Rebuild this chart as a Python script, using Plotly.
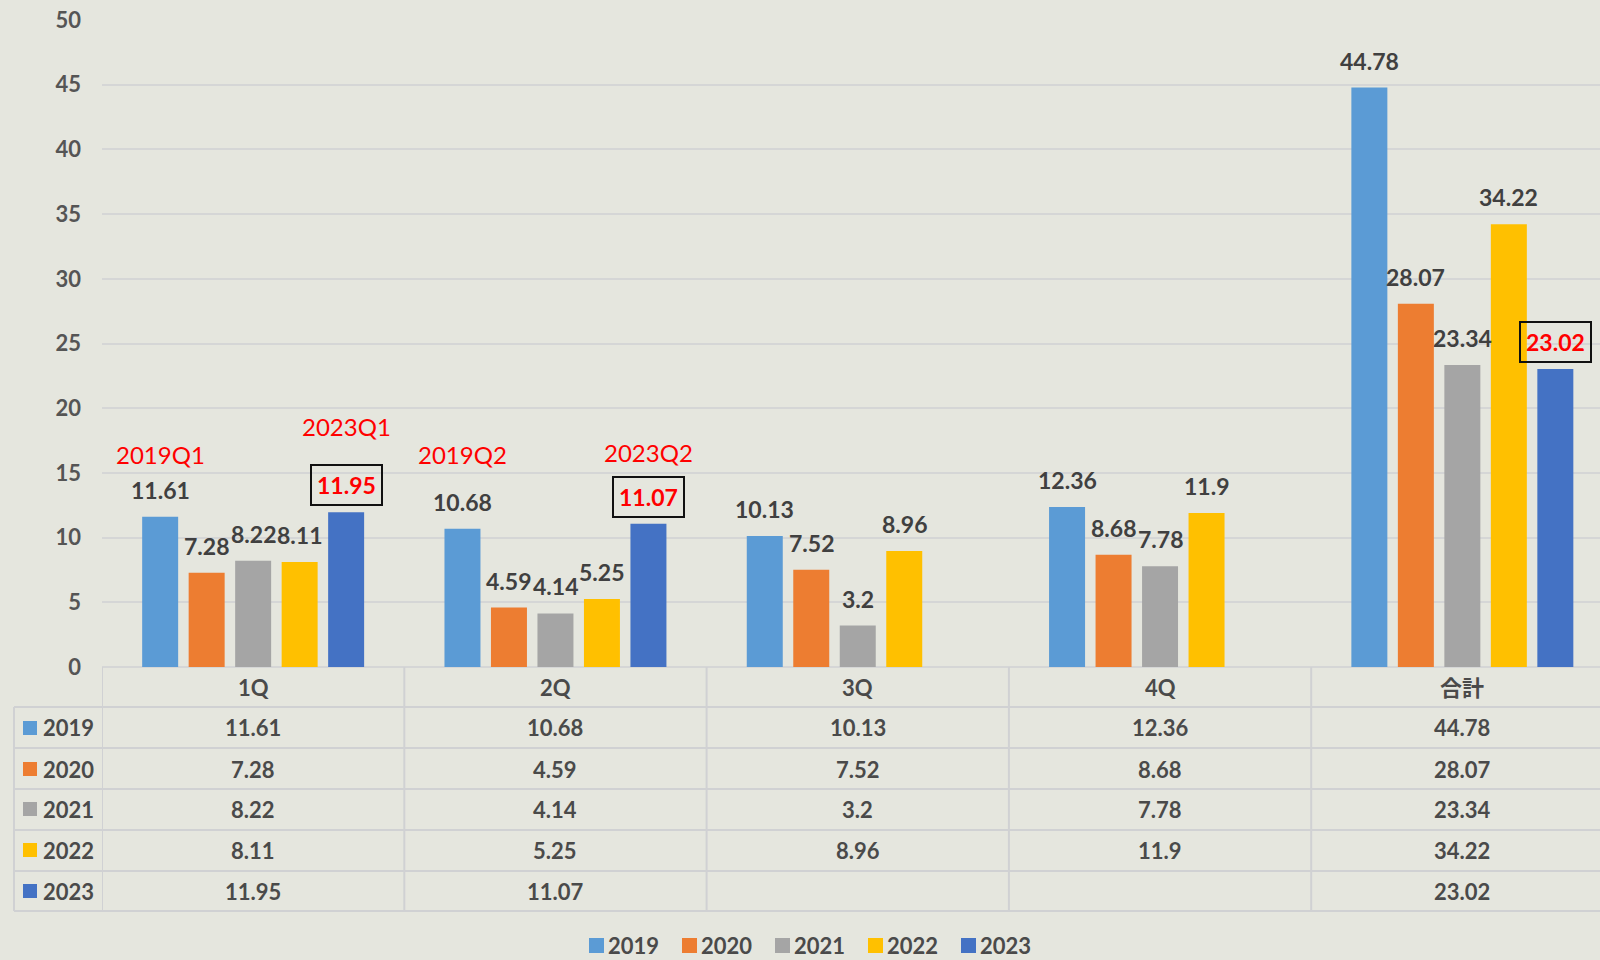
import plotly.graph_objects as go

# ---------------- data ----------------
categories = ["1Q", "2Q", "3Q", "4Q", "合計"]
years = ["2019", "2020", "2021", "2022", "2023"]
v2019 = [11.61, 10.68, 10.13, 12.36, 44.78]
v2020 = [7.28, 4.59, 7.52, 8.68, 28.07]
v2021 = [8.22, 4.14, 3.2, 7.78, 23.34]
v2022 = [8.11, 5.25, 8.96, 11.9, 34.22]
v2023 = [11.95, 11.07, None, None, 23.02]
series = [v2019, v2020, v2021, v2022, v2023]
colors = ["#5B9BD5", "#ED7D31", "#A5A5A5", "#FFC000", "#4472C4"]
y_ticks = [0, 5, 10, 15, 20, 25, 30, 35, 40, 45, 50]

# red callouts: (text, category index, series index, y in data units)
callouts = [("2019Q1", 0, 0, 16.4), ("2023Q1", 0, 4, 18.6),
            ("2019Q2", 1, 0, 16.4), ("2023Q2", 1, 4, 16.6)]
highlight_series = 4  # 2023 values boxed in red

# ---------------- layout geometry ----------------
W, H = 1600, 960
ML, MR, MT, MB = 102, 0, 20, 293
PW = W - ML - MR
PH = H - MT - MB
BARGAP = 0.231
BARGROUPGAP = 0.226
n = len(series)
slot = (1 - BARGAP) / n
XR = [-0.5, -0.5 + PW / 302.3]

FONT = "Lato, 'Noto Sans CJK JP', 'Noto Sans', sans-serif"
TXT = "#404040"
TBL = "#4A4A4A"
BG = "#E5E6DE"
LINE = "#D0D1D3"


def py2paper(py):
    return (H - MB - py) / PH


def px2paper(px):
    return (px - ML) / PW


fig = go.Figure()
xs = list(range(len(categories)))
for yr, vals, c in zip(years, series, colors):
    fig.add_trace(go.Bar(x=xs, y=vals, name=yr,
                         marker=dict(color=c, line=dict(width=0)), hoverinfo="skip"))

annotations = []
shapes = []
# data labels
for k, vals in enumerate(series):
    for i, v in enumerate(vals):
        if v is None:
            continue
        xpos = i + (k - (n - 1) / 2) * slot
        if k == highlight_series:
            annotations.append(dict(x=xpos, y=v, xref="x", yref="y", text=f"<b>{v}</b>",
                                    showarrow=False, yanchor="middle", yshift=27,
                                    font=dict(family=FONT, size=23, color="#FF0000"),
                                    bordercolor="#111111", borderwidth=2, borderpad=5))
        else:
            annotations.append(dict(x=xpos, y=v, xref="x", yref="y", text=f"<b>{v}</b>",
                                    showarrow=False, yanchor="middle", yshift=27,
                                    font=dict(family=FONT, size=23, color=TXT)))
# red callouts
for txt, i, k, yv in callouts:
    xpos = i + (k - (n - 1) / 2) * slot
    annotations.append(dict(x=xpos, y=yv, xref="x", yref="y", text=txt, showarrow=False,
                            yanchor="middle", font=dict(family=FONT, size=24, color="#FF0000")))

# ---------------- data table ----------------
header_py = 687
row_py = [728, 769, 809, 850, 891]
row_lines = [707, 748, 789, 830, 871, 911]
for i, cat in enumerate(categories):
    annotations.append(dict(x=i, y=py2paper(header_py), xref="x", yref="paper", text=f"<b>{cat}</b>",
                            showarrow=False, yanchor="middle",
                            font=dict(family=FONT, size=22, color=TBL)))
for k, (yr, vals, c) in enumerate(zip(years, series, colors)):
    yc = py2paper(row_py[k])
    annotations.append(dict(x=px2paper(41), y=yc, xref="paper", yref="paper", text=f"<b>{yr}</b>",
                            showarrow=False, xanchor="left", yanchor="middle",
                            font=dict(family=FONT, size=22, color=TBL)))
    shapes.append(dict(type="rect", xref="paper", yref="paper",
                       x0=px2paper(23), x1=px2paper(37),
                       y0=yc - 7 / PH, y1=yc + 7 / PH,
                       fillcolor=c, line=dict(width=0), layer="above"))
    for i, v in enumerate(vals):
        if v is None:
            continue
        annotations.append(dict(x=i, y=yc, xref="x", yref="paper", text=f"<b>{v}</b>",
                                showarrow=False, yanchor="middle",
                                font=dict(family=FONT, size=22, color=TBL)))

# horizontal table lines
for ly in row_lines:
    shapes.append(dict(type="line", xref="paper", yref="paper", x0=px2paper(14), x1=1,
                       y0=py2paper(ly), y1=py2paper(ly), line=dict(color=LINE, width=2)))
# vertical table lines
for b in [i - 0.5 for i in range(len(categories))]:
    shapes.append(dict(type="line", xref="x", yref="paper", x0=b, x1=b,
                       y0=0, y1=py2paper(row_lines[-1]), line=dict(color=LINE, width=2)))
shapes.append(dict(type="line", xref="paper", yref="paper", x0=px2paper(14), x1=px2paper(14),
                   y0=py2paper(row_lines[0]), y1=py2paper(row_lines[-1]),
                   line=dict(color=LINE, width=2)))

# ---------------- bottom legend (drawn as keys + labels) ----------------
leg_py = 945
for k, (yr, c) in enumerate(zip(years, colors)):
    x0 = 589 + 93 * k
    shapes.append(dict(type="rect", xref="paper", yref="paper",
                       x0=px2paper(x0), x1=px2paper(x0 + 15),
                       y0=py2paper(leg_py + 8), y1=py2paper(leg_py - 7),
                       fillcolor=c, line=dict(width=0)))
    annotations.append(dict(x=px2paper(x0 + 17), y=py2paper(leg_py), xref="paper", yref="paper",
                            text=f"<b>{yr}</b>", showarrow=False, xanchor="left", yanchor="middle",
                            font=dict(family=FONT, size=22, color=TBL)))

fig.update_layout(
    width=W, height=H,
    margin=dict(l=ML, r=MR, t=MT, b=MB, pad=0),
    paper_bgcolor=BG, plot_bgcolor=BG,
    barmode="group", bargap=BARGAP, bargroupgap=BARGROUPGAP,
    font=dict(family=FONT, size=22, color=TXT),
    xaxis=dict(range=XR, showticklabels=False, showgrid=False, zeroline=False,
               showline=False, ticks="", fixedrange=True),
    yaxis=dict(range=[0, 50], tickvals=y_ticks, ticktext=[f"<b>{t}</b>" for t in y_ticks],
               showgrid=True, gridcolor="#D5D6D6",
               gridwidth=1.5, zeroline=True, zerolinecolor="#D5D6D6", zerolinewidth=1.5,
               showline=False, ticks="", ticklabelstandoff=20,
               tickfont=dict(family=FONT, size=22, color="#555555"), fixedrange=True),
    showlegend=False,
    annotations=annotations,
    shapes=shapes,
)

fig.write_html("out.html", config={"displayModeBar": False},
               post_script="document.body.style.margin='0';document.body.style.overflow='hidden';")
